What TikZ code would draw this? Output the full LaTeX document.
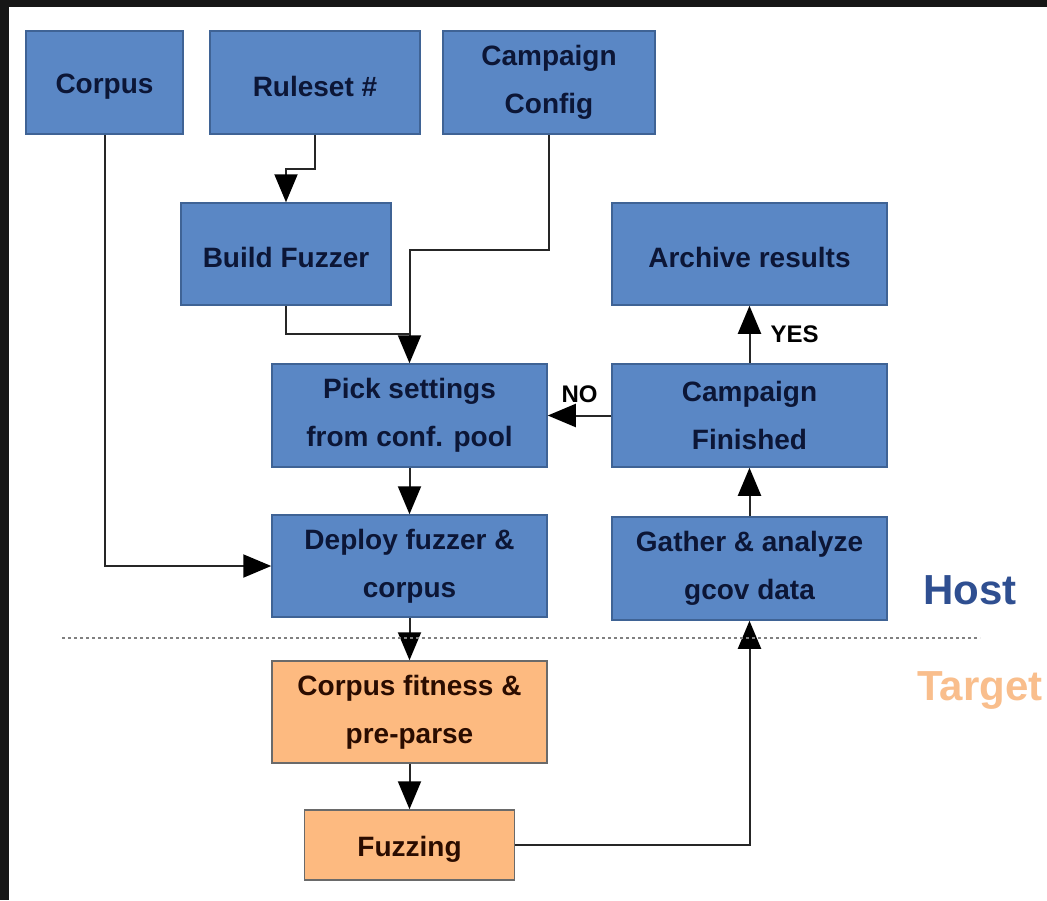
\documentclass[tikz,border=0pt]{standalone}
\usepackage{fontspec}
\setmainfont{Liberation Sans}
\usetikzlibrary{arrows.meta}
\definecolor{boxblue}{HTML}{5A87C5}
\definecolor{boxblueedge}{HTML}{3F6395}
\definecolor{boxorange}{HTML}{FDBA80}
\definecolor{boxorangeedge}{HTML}{6A6A6A}
\definecolor{bluetext}{HTML}{0C1636}
\definecolor{orangetext}{HTML}{2A0C00}
\definecolor{hostblue}{HTML}{2F4F91}
\definecolor{targetorange}{HTML}{F9BE8C}
\definecolor{framedark}{HTML}{161616}
\tikzset{
  x=1pt, y=-1pt,
  boxbase/.style={draw, line width=1.5pt, inner sep=0pt, align=center,
    font=\fontsize{28}{48}\selectfont\bfseries,
    execute at begin node={\rule{0pt}{28pt}}},
  bluebox/.style={boxbase, fill=boxblue, draw=boxblueedge, text=bluetext},
  orangebox/.style={boxbase, fill=boxorange, draw=boxorangeedge, text=orangetext},
  arr/.style={draw=black!85, line width=2pt, -{Triangle[length=28pt,width=23pt,color=black]}},
  conn/.style={draw=black!85, line width=2pt},
  lbl/.style={font=\fontsize{24}{28}\selectfont\bfseries, text=black, inner sep=0pt},
  side/.style={font=\fontsize{42}{48}\selectfont\bfseries, inner sep=0pt}
}
\begin{document}
\begin{tikzpicture}
\useasboundingbox (0,0) rectangle (1047,900);
\fill[white] (0,0) rectangle (1047,900);
\fill[framedark] (0,0) rectangle (1047,7);
\fill[framedark] (0,0) rectangle (9,900);

\node[bluebox, minimum width=157pt, minimum height=103pt] (corpus) at (104.5,82.5) {Corpus};
\node[bluebox, minimum width=210pt, minimum height=103pt] (ruleset) at (315,82.5) {Ruleset \#};
\node[bluebox, minimum width=212pt, minimum height=103pt] (config) at (549,82.5) {Campaign\\Config};
\node[bluebox, minimum width=210pt, minimum height=102pt] (build) at (286,254) {Build Fuzzer};
\node[bluebox, minimum width=275pt, minimum height=102pt] (archive) at (749.5,254) {Archive results};
\node[bluebox, minimum width=275pt, minimum height=103pt] (pick) at (409.5,415.5) {Pick settings\\from conf. pool};
\node[bluebox, minimum width=275pt, minimum height=103pt] (finished) at (749.5,415.5) {Campaign\\Finished};
\node[bluebox, minimum width=275pt, minimum height=102pt] (deploy) at (409.5,566) {Deploy fuzzer \&\\corpus};
\node[bluebox, minimum width=275pt, minimum height=103pt] (gather) at (749.5,568.5) {Gather \& analyze\\gcov data};
\node[orangebox, minimum width=275pt, minimum height=102pt] (fitness) at (409.5,712) {Corpus fitness \&\\pre-parse};
\node[orangebox, minimum width=210pt, minimum height=70pt] (fuzzing) at (409.5,845) {Fuzzing};

\coordinate (r1) at (315,169);
\coordinate (c1) at (409.5,250);
\coordinate (b1) at (409.5,334);

\draw[arr] (ruleset.south) -- (r1) -| (build.north);
\draw[arr] (config.south) |- (c1) -- (pick.north);
\draw[conn] (build.south) |- (b1);
\draw[arr] (corpus.south) |- (deploy.west);
\draw[arr] (pick.south) -- (deploy.north);
\draw[arr] (deploy.south) -- (fitness.north);
\draw[arr] (fitness.south) -- (fuzzing.north);
\draw[arr] (fuzzing.east) -| (gather.south);
\draw[arr] (gather.north) -- (finished.south);
\draw[arr] (finished.north) -- (archive.south) node[lbl, pos=0.5, right=20pt] (yes) {YES};
\draw[arr] (finished.west) -- (pick.east) node[lbl, pos=0.5, above=12pt] (no) {NO};

\draw[gray, line width=2pt, dash pattern=on 3pt off 3pt] (62,638) -- (980,638);

\node[side, text=hostblue] (host) at (970,590) {Host};
\node[side, text=targetorange] (target) at (980,690) {Target};
\end{tikzpicture}
\end{document}
